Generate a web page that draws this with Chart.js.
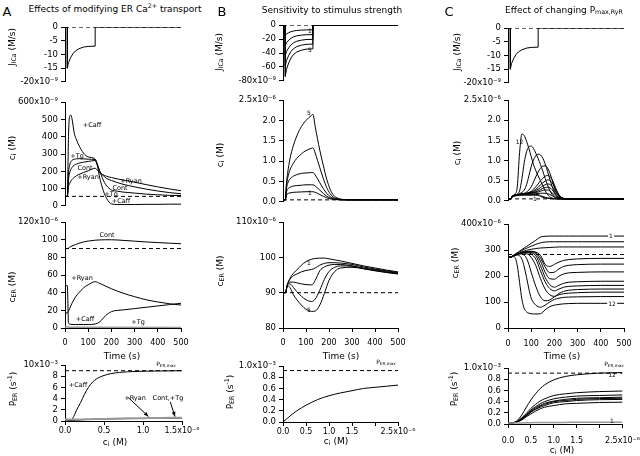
<!DOCTYPE html>
<html>
<head>
<meta charset="utf-8">
<script src="https://cdn.jsdelivr.net/npm/chart.js@4/dist/chart.umd.min.js"></script>
<style>
html, body { margin: 0; padding: 0; background: #fff; }
#fig { position: relative; width: 640px; height: 456px; overflow: hidden; font-family: 'DejaVu Sans', sans-serif; color: #000; }
#fig canvas { position: absolute; }
.t { position: absolute; white-space: nowrap; transform: translate(-50%, -50%); line-height: 1; }
.r { transform: translate(-50%, -50%) rotate(-90deg); }
.bg { background: #fff; padding: 0 1px; }
sub { font-size: 70%; vertical-align: -0.3em; line-height: 0; }
sup { font-size: 70%; vertical-align: 0.55em; line-height: 0; }
</style>
</head>
<body>
<div id="fig"></div>
<script>
// ---- tick labels ----
const timeTicks = [0, 100, 200, 300, 400, 500];
const timeText = ['0', '100', '200', '300', '400', '500'];
const jTicks20 = [-20, -15, -10, -5, 0];
const jText20 = ['-20x10⁻⁹', '-15', '-10', '-5', '0'];
const jTicks80 = [-80, -60, -40, -20, 0];
const jText80 = ['-80x10⁻⁹', '-60', '-40', '-20', '0'];
const ciTicksA = [0, 100, 200, 300, 400, 500, 600];
const ciTextA = ['0', '100', '200', '300', '400', '500', '600x10⁻⁹'];
const ciTicks25 = [0, 0.5, 1, 1.5, 2, 2.5];
const ciText25 = ['0.0', '0.5', '1.0', '1.5', '2.0', '2.5x10⁻⁶'];
const ceTicksA = [0, 20, 40, 60, 80, 100, 120];
const ceTextA = ['0', '20', '40', '60', '80', '100', '120x10⁻⁶'];
const ceTicksB = [80, 90, 100, 110];
const ceTextB = ['80', '90', '100', '110x10⁻⁶'];
const ceTicksC = [0, 100, 200, 300, 400];
const ceTextC = ['0', '100', '200', '300', '400x10⁻⁶'];
const peTicksA = [0, 2, 4, 6, 8, 10];
const peTextA = ['0', '2', '4', '6', '8', '10x10⁻³'];
const peTicks1 = [0, 0.2, 0.4, 0.6, 0.8, 1.0];
const peText1 = ['0.0', '0.2', '0.4', '0.6', '0.8', '1.0x10⁻³'];
const cTicksA = [0, 0.5, 1, 1.5];
const cTextA = ['0.0', '0.5', '1.0', '1.5x10⁻⁶'];
const cTicks25 = [0, 0.5, 1, 1.5, 2, 2.5];
const cText25 = ['0.0', '0.5', '1.0', '1.5', '', '2.5x10⁻⁶'];

// ---- A: effects of modifying ER Ca2+ transport ----
const tJ = [0, 10, 10, 15, 25, 35, 45, 60, 80, 100, 130, 130, 500];
const jA = [0, 0, -15, -13, -11, -9.6, -8.7, -7.9, -7.3, -7.05, -6.95, 0, 0];

const tCiA = [0, 10, 15, 20, 25, 30, 40, 50, 60, 80, 100, 130, 140, 150, 160, 170, 180, 190, 200, 225, 250, 300, 350, 400, 450, 500];
const ciA_caff = [55, 55, 400, 520, 525, 505, 420, 380, 350, 305, 283, 270, 230, 160, 110, 70, 42, 22, 12, 8, 8, 8, 9, 9, 10, 10];
const ciA_tg = [55, 55, 190, 235, 255, 263, 270, 272, 273, 272, 270, 268, 240, 200, 165, 135, 115, 102, 92, 85, 80, 74, 68, 64, 61, 60];
const ciA_cont = [55, 55, 150, 190, 210, 222, 235, 242, 247, 253, 257, 262, 235, 200, 182, 168, 158, 152, 147, 135, 125, 110, 97, 86, 77, 70];
const ciA_ryan = [55, 55, 110, 130, 143, 152, 165, 175, 182, 193, 203, 218, 205, 190, 182, 176, 171, 167, 164, 156, 150, 137, 123, 110, 98, 88];
const ciRestA = 55;

const tCeA = [0, 10, 15, 20, 30, 45, 60, 80, 100, 130, 150, 175, 200, 250, 300, 350, 400, 450, 500];
const ceA_cont = [90, 90, 90.5, 91.5, 93, 94.5, 96, 97.5, 98.5, 99.5, 99.8, 100, 100, 99.3, 98.4, 97.5, 96.8, 96.1, 95.5];
const ceA_ryan = [17, 17, 19, 22, 28, 35, 40, 45.5, 49, 52.5, 50.5, 47.5, 44.5, 39.5, 35.5, 32, 29.5, 27.5, 26];
const ceA_caff = [48, 48, 6, 4.5, 4, 4, 4, 4, 4, 4.5, 7, 14, 18.5, 20.5, 22, 23.5, 25, 26.5, 28];
const tTgA = [0, 10, 20, 500];
const ceA_tg = [1.5, 1.5, 0.8, 0.5];
const ceRestA = 90;

const cPeA = [0, 0.05, 0.1, 0.15, 0.2, 0.25, 0.3, 0.35, 0.4, 0.5, 0.6, 0.7, 0.8, 1.0, 1.2, 1.5];
const peA_caff = [0, 0.05, 0.5, 2.0, 3.3, 4.8, 6.0, 6.9, 7.5, 8.15, 8.5, 8.7, 8.8, 8.9, 8.95, 9.0];
const peA_ryan = [0, 0.02, 0.08, 0.15, 0.2, 0.24, 0.27, 0.3, 0.32, 0.35, 0.38, 0.4, 0.42, 0.45, 0.47, 0.5];
const peA_cont = [0.25, 0.25, 0.26, 0.27, 0.28, 0.3, 0.31, 0.33, 0.35, 0.38, 0.41, 0.44, 0.47, 0.51, 0.55, 0.6];
const peMaxA = 9;

// ---- B: sensitivity to stimulus strength ----
const jB1 = [0, 0, -14.7, -12.7, -10.8, -9.4, -8.5, -7.7, -7.2, -6.9, -6.8, 0, 0];
const jB2 = [0, 0, -29.4, -25.4, -21.6, -18.8, -17, -15.4, -14.4, -13.8, -13.6, 0, 0];
const jB3 = [0, 0, -44, -38, -32.4, -28.2, -25.5, -23.1, -21.6, -20.7, -20.4, 0, 0];
const jB4 = [0, 0, -58.8, -50.8, -43.2, -37.6, -34, -30.8, -28.8, -27.6, -27.2, 0, 0];
const jB5 = [0, 0, -73.5, -63.5, -54, -47, -42.5, -38.5, -36, -34.5, -34, 0, 0];

const tCiB = [0, 10, 15, 20, 30, 45, 60, 80, 100, 125, 130, 140, 150, 160, 175, 190, 205, 220, 235, 250, 275, 300, 500];
const ciB1 = [0.05, 0.05, 0.16, 0.2, 0.22, 0.235, 0.24, 0.245, 0.25, 0.25, 0.25, 0.235, 0.21, 0.18, 0.14, 0.1, 0.075, 0.06, 0.054, 0.051, 0.05, 0.05, 0.05];
const ciB2 = [0.05, 0.05, 0.24, 0.31, 0.36, 0.39, 0.4, 0.41, 0.42, 0.42, 0.42, 0.39, 0.34, 0.29, 0.21, 0.14, 0.095, 0.07, 0.058, 0.053, 0.05, 0.05, 0.05];
const ciB3 = [0.05, 0.05, 0.32, 0.45, 0.56, 0.63, 0.67, 0.7, 0.71, 0.72, 0.72, 0.66, 0.57, 0.47, 0.33, 0.21, 0.13, 0.085, 0.065, 0.055, 0.05, 0.05, 0.05];
const ciB4 = [0.05, 0.05, 0.4, 0.58, 0.78, 0.95, 1.07, 1.18, 1.26, 1.32, 1.33, 1.2, 1.02, 0.84, 0.58, 0.35, 0.2, 0.11, 0.075, 0.06, 0.052, 0.05, 0.05];
const ciB5 = [0.05, 0.05, 0.45, 0.7, 1.05, 1.38, 1.62, 1.85, 2.0, 2.13, 2.15, 1.85, 1.55, 1.27, 0.9, 0.56, 0.31, 0.16, 0.1, 0.07, 0.055, 0.05, 0.05];
const ciRestB = 0.05;

const tCeB = [0, 10, 20, 30, 45, 60, 80, 100, 125, 140, 160, 180, 200, 225, 250, 300, 350, 400, 450, 500];
const ceB1 = [90, 90, 92.5, 94, 95.5, 96.4, 97.8, 98.8, 99.5, 99.7, 99.8, 99.8, 99.6, 99.3, 99, 98.3, 97.6, 97, 96.4, 95.9];
const ceB2 = [90, 90, 92.5, 93.8, 94.8, 95.3, 95.9, 96.3, 96.6, 97, 97.8, 98.3, 98.5, 98.5, 98.4, 98, 97.3, 96.7, 96.2, 95.7];
const ceB3 = [90, 90, 92.5, 93, 93, 92.8, 92.5, 92.3, 92.2, 93.5, 96.2, 97.3, 97.8, 98, 98, 97.6, 97, 96.5, 96, 95.5];
const ceB4 = [90, 90, 92.3, 92.5, 91.5, 90.3, 89, 88, 87.5, 88.2, 90.7, 93.8, 96, 97.2, 97.6, 97.5, 96.8, 96.3, 95.8, 95.4];
const ceB5 = [90, 90, 92, 91.5, 89.5, 88, 86.5, 85.3, 84.7, 84.8, 86.5, 89.8, 93.5, 96, 97, 97.2, 96.8, 96.2, 95.7, 95.3];
const ceRestB = 90;

const cPeB = [0, 0.1, 0.2, 0.3, 0.5, 0.75, 1.0, 1.25, 1.5, 1.75, 2.0, 2.25, 2.5];
const peB = [0, 0.07, 0.14, 0.2, 0.3, 0.4, 0.47, 0.52, 0.56, 0.6, 0.62, 0.64, 0.66];
const peMaxB = 0.92;

// ---- C: effect of changing Pmax,RyR ----
const tCiC = [0, 10, 20, 30, 40, 50, 60, 70, 80, 90, 100, 110, 120, 130, 140, 150, 160, 170, 180, 190, 200, 210, 220, 230, 240, 250, 270, 300, 400, 500];
const ciC1 = [.05, .05, .10, .12, .13, .135, .14, .14, .14, .14, .14, .14, .14, .14, .11, .09, .075, .065, .058, .055, .053, .05, .05, .05, .05, .05, .05, .05, .05, .05];
const ciC2 = [.05, .05, .11, .13, .14, .15, .155, .16, .16, .16, .16, .16, .16, .16, .13, .11, .09, .075, .065, .058, .055, .052, .05, .05, .05, .05, .05, .05, .05, .05];
const ciC3 = [.05, .05, .12, .14, .15, .16, .165, .17, .17, .175, .175, .18, .18, .185, .19, .19, .19, .18, .16, .13, .10, .08, .065, .057, .052, .05, .05, .05, .05, .05];
const ciC4 = [.05, .05, .12, .14, .15, .16, .17, .175, .18, .185, .19, .20, .21, .22, .24, .26, .27, .27, .25, .20, .15, .10, .075, .06, .053, .05, .05, .05, .05, .05];
const ciC5 = [.05, .05, .12, .14, .15, .16, .17, .175, .18, .19, .20, .21, .23, .25, .28, .31, .33, .34, .33, .28, .20, .13, .09, .065, .055, .05, .05, .05, .05, .05];
const ciC6 = [.05, .05, .12, .14, .15, .16, .17, .175, .185, .195, .21, .23, .26, .29, .33, .37, .40, .42, .41, .36, .27, .18, .11, .075, .058, .05, .05, .05, .05, .05];
const ciC7 = [.05, .05, .12, .14, .15, .16, .17, .18, .19, .20, .22, .25, .29, .34, .40, .45, .49, .52, .51, .45, .35, .23, .14, .085, .06, .052, .05, .05, .05, .05];
const ciC8 = [.05, .05, .12, .14, .15, .16, .17, .18, .19, .21, .24, .29, .35, .42, .50, .56, .61, .63, .61, .53, .40, .26, .15, .09, .062, .053, .05, .05, .05, .05];
const ciC9 = [.05, .05, .12, .14, .15, .16, .17, .19, .22, .27, .35, .47, .60, .72, .81, .86, .87, .82, .70, .52, .34, .20, .12, .075, .058, .05, .05, .05, .05, .05];
const ciC10 = [.05, .05, .12, .14, .16, .18, .21, .27, .40, .62, .85, 1.02, 1.12, 1.16, 1.14, 1.06, .92, .74, .54, .36, .22, .13, .08, .06, .052, .05, .05, .05, .05, .05];
const ciC11 = [.05, .05, .12, .15, .17, .25, .55, .95, 1.22, 1.34, 1.36, 1.3, 1.18, 1.05, .90, .74, .56, .40, .26, .16, .10, .07, .055, .05, .05, .05, .05, .05, .05, .05];
const ciC12 = [.05, .05, .13, .17, .35, 1.2, 1.66, 1.62, 1.48, 1.3, 1.1, .9, .75, .62, .50, .38, .26, .16, .10, .07, .055, .05, .05, .05, .05, .05, .05, .05, .05, .05];
const ciRestC = 0.05;

const tCeC = [0, 10, 20, 30, 40, 50, 60, 70, 80, 90, 100, 120, 140, 160, 180, 200, 220, 240, 260, 300, 400, 500];
const ceC1 = [272, 272, 278, 284, 290, 296, 302, 308, 314, 320, 326, 338, 350, 353, 354, 354, 354, 354, 354, 354, 354, 354];
const ceC2 = [272, 272, 277, 283, 288, 293, 298, 303, 307, 311, 315, 322, 328, 331, 332, 332, 332, 332, 332, 332, 332, 332];
const ceC3 = [272, 272, 276, 281, 285, 289, 293, 296, 299, 301, 303, 306, 308, 309, 310, 311, 312, 312, 312, 312, 312, 312];
const ceC4 = [272, 272, 276, 280, 284, 287, 290, 292, 294, 295, 295, 292, 280, 245, 237, 245, 254, 260, 263, 266, 268, 268];
const ceC5 = [272, 272, 276, 280, 284, 287, 290, 292, 294, 295, 295, 290, 270, 235, 213, 215, 228, 237, 241, 244, 246, 246];
const ceC6 = [272, 272, 276, 280, 284, 287, 290, 292, 293, 293, 292, 285, 258, 215, 190, 188, 200, 208, 212, 214, 216, 216];
const ceC7 = [272, 272, 276, 280, 284, 287, 290, 291, 292, 292, 290, 278, 240, 195, 167, 157, 165, 172, 176, 178, 180, 180];
const ceC8 = [272, 272, 276, 280, 284, 287, 289, 290, 290, 289, 285, 265, 220, 178, 152, 143, 150, 157, 160, 162, 164, 164];
const ceC9 = [272, 272, 276, 280, 284, 286, 288, 288, 286, 282, 272, 240, 190, 150, 128, 122, 133, 141, 145, 148, 150, 150];
const ceC10 = [272, 272, 276, 280, 283, 285, 285, 280, 268, 245, 215, 160, 120, 105, 108, 120, 128, 132, 134, 136, 138, 138];
const ceC11 = [272, 272, 276, 279, 281, 278, 265, 235, 195, 150, 115, 88, 80, 88, 100, 110, 115, 118, 119, 120, 121, 121];
const ceC12 = [272, 272, 275, 272, 240, 175, 110, 75, 62, 57, 55, 54, 55, 70, 82, 88, 91, 93, 94, 95, 95, 95];
const ceRestC = 283;

const cPeC = [0, 0.1, 0.15, 0.2, 0.3, 0.4, 0.5, 0.6, 0.7, 0.8, 1.0, 1.25, 1.5, 2.0, 2.5];
const peC12 = [0.02, 0.02, 0.03, 0.06, 0.16, 0.30, 0.43, 0.54, 0.63, 0.70, 0.79, 0.85, 0.88, 0.91, 0.92];
const peC11 = [0.02, 0.02, 0.03, 0.05, 0.11, 0.19, 0.28, 0.35, 0.41, 0.45, 0.51, 0.54, 0.56, 0.58, 0.59];
const peC10 = [0.02, 0.02, 0.03, 0.04, 0.10, 0.17, 0.25, 0.31, 0.36, 0.40, 0.45, 0.48, 0.50, 0.51, 0.52];
const peC9 = [0.02, 0.02, 0.03, 0.04, 0.09, 0.16, 0.23, 0.29, 0.33, 0.37, 0.41, 0.44, 0.46, 0.47, 0.48];
const peC8 = [0.02, 0.02, 0.03, 0.04, 0.09, 0.15, 0.22, 0.27, 0.32, 0.35, 0.40, 0.42, 0.44, 0.455, 0.46];
const peC7 = [0.02, 0.02, 0.03, 0.04, 0.08, 0.14, 0.21, 0.26, 0.30, 0.33, 0.38, 0.40, 0.42, 0.435, 0.44];
const peC6 = [0.02, 0.02, 0.03, 0.04, 0.07, 0.13, 0.18, 0.23, 0.27, 0.30, 0.33, 0.36, 0.37, 0.385, 0.39];
const peC1 = [0.02, 0.02, 0.02, 0.02, 0.02, 0.022, 0.024, 0.025, 0.026, 0.027, 0.028, 0.029, 0.03, 0.03, 0.03];
const peMaxC = 0.91;

// ---- drawing ----
Chart.defaults.font.family = "'DejaVu Sans', sans-serif";
Chart.defaults.font.size = 8;
Chart.defaults.color = '#000';

const fig = document.getElementById('fig');

function pts(xs, ys) {
  return xs.map((x, i) => ({ x: x, y: ys[i] }));
}

function trace(xs, ys, extra) {
  return Object.assign({
    data: pts(xs, ys), borderColor: '#000', borderWidth: 1,
    pointRadius: 0, fill: false, cubicInterpolationMode: 'monotone'
  }, extra || {});
}

function stepTrace(xs, ys) {
  return trace(xs, ys, { cubicInterpolationMode: 'default', tension: 0 });
}

function refLine(x0, x1, y) {
  return { data: [{ x: x0, y: y }, { x: x1, y: y }], borderColor: '#000', borderWidth: 1, borderDash: [4, 3], pointRadius: 0 };
}

// arrows for the labels in panel A
const arrowPlugin = {
  id: 'arrows',
  afterDatasetsDraw(chart, args, o) {
    if (!o || !o.list) return;
    const ctx = chart.ctx, xs = chart.scales.x, ys = chart.scales.y;
    ctx.save();
    ctx.strokeStyle = '#000';
    ctx.fillStyle = '#000';
    ctx.lineWidth = 1;
    o.list.forEach(a => {
      const x1 = xs.getPixelForValue(a[0]), y1 = ys.getPixelForValue(a[1]);
      const x2 = xs.getPixelForValue(a[2]), y2 = ys.getPixelForValue(a[3]);
      const ang = Math.atan2(y2 - y1, x2 - x1);
      ctx.beginPath();
      ctx.moveTo(x1, y1);
      ctx.lineTo(x2, y2);
      ctx.stroke();
      ctx.beginPath();
      ctx.moveTo(x2, y2);
      ctx.lineTo(x2 - 5 * Math.cos(ang - 0.4), y2 - 5 * Math.sin(ang - 0.4));
      ctx.lineTo(x2 - 5 * Math.cos(ang + 0.4), y2 - 5 * Math.sin(ang + 0.4));
      ctx.closePath();
      ctx.fill();
    });
    ctx.restore();
  }
};

function panel(box, cfg) {
  const padL = 62, padT = 8, padR = 24, axisH = 26, padB = 7;
  const hasX = !!cfg.xTicks;
  const xText = cfg.xText || [];
  const w = box.r - box.l + padL + padR;
  const h = box.b - box.t + padT + (hasX ? axisH : padB);
  const cv = document.createElement('canvas');
  cv.width = w;
  cv.height = h;
  cv.style.left = (box.l - padL) + 'px';
  cv.style.top = (box.t - padT) + 'px';
  cv.style.width = w + 'px';
  cv.style.height = h + 'px';
  fig.appendChild(cv);
  const yT = cfg.yTicks;
  new Chart(cv, {
    type: 'line',
    data: { datasets: cfg.sets },
    plugins: [arrowPlugin],
    options: {
      responsive: false,
      animation: false,
      devicePixelRatio: 1,
      layout: { padding: { left: 0, top: padT, right: padR, bottom: hasX ? 0 : padB } },
      plugins: { legend: { display: false }, tooltip: { enabled: false }, arrows: { list: cfg.arrows || null } },
      scales: {
        x: {
          type: 'linear', min: cfg.xMin, max: cfg.xMax, display: hasX,
          afterBuildTicks: s => { if (hasX) s.ticks = cfg.xTicks.map(v => ({ value: v })); },
          afterFit: s => { s.height = hasX ? axisH : 0; },
          grid: { drawOnChartArea: false, color: '#000', tickLength: 4 },
          border: { color: '#000', width: 1 },
          ticks: { padding: cfg.xPad || 0, maxRotation: 0, autoSkip: false, callback: (v, i) => (xText[i] !== undefined ? xText[i] : '') }
        },
        y: {
          type: 'linear', min: yT[0], max: yT[yT.length - 1],
          afterBuildTicks: s => { s.ticks = yT.map(v => ({ value: v })); },
          afterFit: s => { s.width = padL; },
          grid: { drawOnChartArea: false, color: '#000', tickLength: 4 },
          border: { color: '#000', width: 1 },
          ticks: { padding: 3, autoSkip: false, font: { size: 8.5 }, callback: (v, i) => (cfg.yText[i] !== undefined ? cfg.yText[i] : '') }
        }
      }
    }
  });
}

// Panel A
panel({ l: 65, r: 181, t: 27, b: 83 }, {
  xMin: 0, xMax: 500, yTicks: jTicks20, yText: jText20,
  sets: [refLine(0, 500, 0), stepTrace(tJ, jA)]
});
panel({ l: 65, r: 181, t: 102, b: 207 }, {
  xMin: 0, xMax: 500, yTicks: ciTicksA, yText: ciTextA,
  sets: [refLine(0, 500, ciRestA), trace(tCiA, ciA_caff), trace(tCiA, ciA_tg), trace(tCiA, ciA_cont), trace(tCiA, ciA_ryan)]
});
panel({ l: 65, r: 181, t: 222, b: 328 }, {
  xMin: 0, xMax: 500, xTicks: timeTicks, xText: timeText, xPad: 6,
  yTicks: ceTicksA, yText: ceTextA,
  sets: [refLine(0, 500, ceRestA), trace(tCeA, ceA_cont), trace(tCeA, ceA_ryan), trace(tCeA, ceA_caff),
    trace(tTgA, ceA_tg, { borderColor: '#999', borderWidth: 1.5 })]
});
panel({ l: 65, r: 182, t: 365, b: 421 }, {
  xMin: 0, xMax: 1.5, xTicks: cTicksA, xText: cTextA, xPad: 1,
  yTicks: peTicksA, yText: peTextA,
  sets: [refLine(0, 1.5, peMaxA), trace(cPeA, peA_cont, { borderColor: '#999', borderWidth: 2 }),
    trace(cPeA, peA_ryan), trace(cPeA, peA_caff)],
  arrows: [[0.81, 4.2, 1.07, 0.8], [1.35, 3.4, 1.41, 0.8]]
});

// Panel B
panel({ l: 283, r: 398, t: 25, b: 82 }, {
  xMin: 0, xMax: 500, yTicks: jTicks80, yText: jText80,
  sets: [refLine(0, 500, 0), stepTrace(tJ, jB1), stepTrace(tJ, jB2), stepTrace(tJ, jB3), stepTrace(tJ, jB4), stepTrace(tJ, jB5)]
});
panel({ l: 283, r: 398, t: 100, b: 203 }, {
  xMin: 0, xMax: 500, yTicks: ciTicks25, yText: ciText25,
  sets: [refLine(0, 500, ciRestB), trace(tCiB, ciB1), trace(tCiB, ciB2), trace(tCiB, ciB3), trace(tCiB, ciB4), trace(tCiB, ciB5)]
});
panel({ l: 283, r: 398, t: 222, b: 328 }, {
  xMin: 0, xMax: 500, xTicks: timeTicks, xText: timeText, xPad: 6,
  yTicks: ceTicksB, yText: ceTextB,
  sets: [refLine(0, 500, ceRestB), trace(tCeB, ceB1), trace(tCeB, ceB2), trace(tCeB, ceB3), trace(tCeB, ceB4), trace(tCeB, ceB5)]
});
panel({ l: 283, r: 398, t: 366, b: 422 }, {
  xMin: 0, xMax: 2.5, xTicks: cTicks25, xText: cText25, xPad: 1,
  yTicks: peTicks1, yText: peText1,
  sets: [refLine(0, 2.5, peMaxB), trace(cPeB, peB)]
});

// Panel C
panel({ l: 508, r: 624, t: 28, b: 84 }, {
  xMin: 0, xMax: 500, yTicks: jTicks20, yText: jText20,
  sets: [refLine(0, 500, 0), stepTrace(tJ, jA)]
});
panel({ l: 508, r: 624, t: 100, b: 202 }, {
  xMin: 0, xMax: 500, yTicks: ciTicks25, yText: ciText25,
  sets: [refLine(0, 500, ciRestC)].concat([ciC1, ciC2, ciC3, ciC4, ciC5, ciC6, ciC7, ciC8, ciC9, ciC10, ciC11, ciC12].map(v => trace(tCiC, v)))
});
panel({ l: 508, r: 624, t: 224, b: 328 }, {
  xMin: 0, xMax: 500, xTicks: timeTicks, xText: timeText, xPad: 7,
  yTicks: ceTicksC, yText: ceTextC,
  sets: [refLine(0, 500, ceRestC)].concat([ceC1, ceC2, ceC3, ceC4, ceC5, ceC6, ceC7, ceC8, ceC9, ceC10, ceC11, ceC12].map(v => trace(tCeC, v)))
});
panel({ l: 508, r: 624, t: 368, b: 424 }, {
  xMin: 0, xMax: 2.5, xTicks: cTicks25, xText: cText25, xPad: 8,
  yTicks: peTicks1, yText: peText1,
  sets: [refLine(0, 2.5, peMaxC), trace(cPeC, peC1, { borderColor: '#999', borderWidth: 1.5 })]
    .concat([peC6, peC7, peC8, peC9, peC10, peC11, peC12].map(v => trace(cPeC, v)))
});

// ---- text ----
function txt(html, x, y, size, cls) {
  const d = document.createElement('div');
  d.className = 't' + (cls ? ' ' + cls : '');
  d.innerHTML = html;
  d.style.left = x + 'px';
  d.style.top = y + 'px';
  d.style.fontSize = size + 'px';
  fig.appendChild(d);
}

const jTitle = 'J<sub>ICa</sub> (M/s)';
const ciTitle = 'c<sub>i</sub> (M)';
const ceTitle = 'c<sub>ER</sub> (M)';
const peTitle = 'P<sub>ER</sub> (s<sup>-1</sup>)';
const pMax = 'P<sub>ER,max</sub>';

txt('A', 7, 11, 13);
txt('Effects of modifying ER Ca<sup>2+</sup> transport', 115, 9, 9);
txt('B', 222, 11, 13);
txt('Sensitivity to stimulus strength', 332, 9.5, 9);
txt('C', 449, 11, 13);
txt('Effect of changing P<sub>max,RyR</sub>', 564, 9.5, 9);

txt(jTitle, 12, 47, 9, 'r');
txt(ciTitle, 12, 148, 9, 'r');
txt(ceTitle, 12, 287, 9, 'r');
txt(peTitle, 13, 389, 9, 'r');
txt(jTitle, 219, 52, 9, 'r');
txt(ciTitle, 220, 155, 9, 'r');
txt(ceTitle, 220, 271, 9, 'r');
txt(peTitle, 230, 392, 9, 'r');
txt(jTitle, 457, 52, 9, 'r');
txt(ciTitle, 457, 153, 9, 'r');
txt(ceTitle, 455, 263, 9, 'r');
txt(peTitle, 454, 389, 9, 'r');

txt('Time (s)', 122, 356, 9);
txt('Time (s)', 341, 356, 9);
txt('Time (s)', 562, 356, 9);
txt('c<sub>i</sub> (M)', 115, 442, 9);
txt('c<sub>i</sub> (M)', 336, 441, 9);
txt('c<sub>i</sub> (M)', 562, 450, 9);

// in-plot labels, panel A
txt('+Caff', 92, 125, 6.5);
txt('+Tg', 77, 156, 6.5);
txt('Cont', 85, 168, 6.5);
txt('+Ryan', 88, 177, 6.5);
txt('+Ryan', 131, 181, 6.5);
txt('Cont', 120, 187.5, 6.5);
txt('+Tg', 111, 194, 6.5);
txt('+Caff', 121, 200.5, 6.5);
txt('Cont', 107, 235, 6.5);
txt('+Ryan', 82, 277.5, 6.5);
txt('+Caff', 85, 319, 6.5);
txt('+Tg', 138, 322, 6.5);
txt(pMax, 166, 364, 6);
txt('+Caff', 78, 385, 6.5);
txt('+Ryan', 135, 397.5, 6.5);
txt('Cont,+Tg', 168, 397.5, 6.5);

// panel B
txt('1', 310, 30.5, 6);
txt('5', 310, 50, 6);
txt('5', 309, 113, 6);
txt('1', 310, 193, 6);
txt('1', 309, 263, 6);
txt('5', 309, 309.5, 6);
txt(pMax, 386, 362, 6);

// panel C
txt('12', 519.5, 142, 6);
txt('1', 535, 199, 6);
txt('1', 611, 236, 6, 'bg');
txt('12', 612, 303.5, 6, 'bg');
txt(pMax, 614, 364, 6);
txt('12', 612, 374.5, 6);
txt('1', 612, 421, 6);
</script>
</body>
</html>
